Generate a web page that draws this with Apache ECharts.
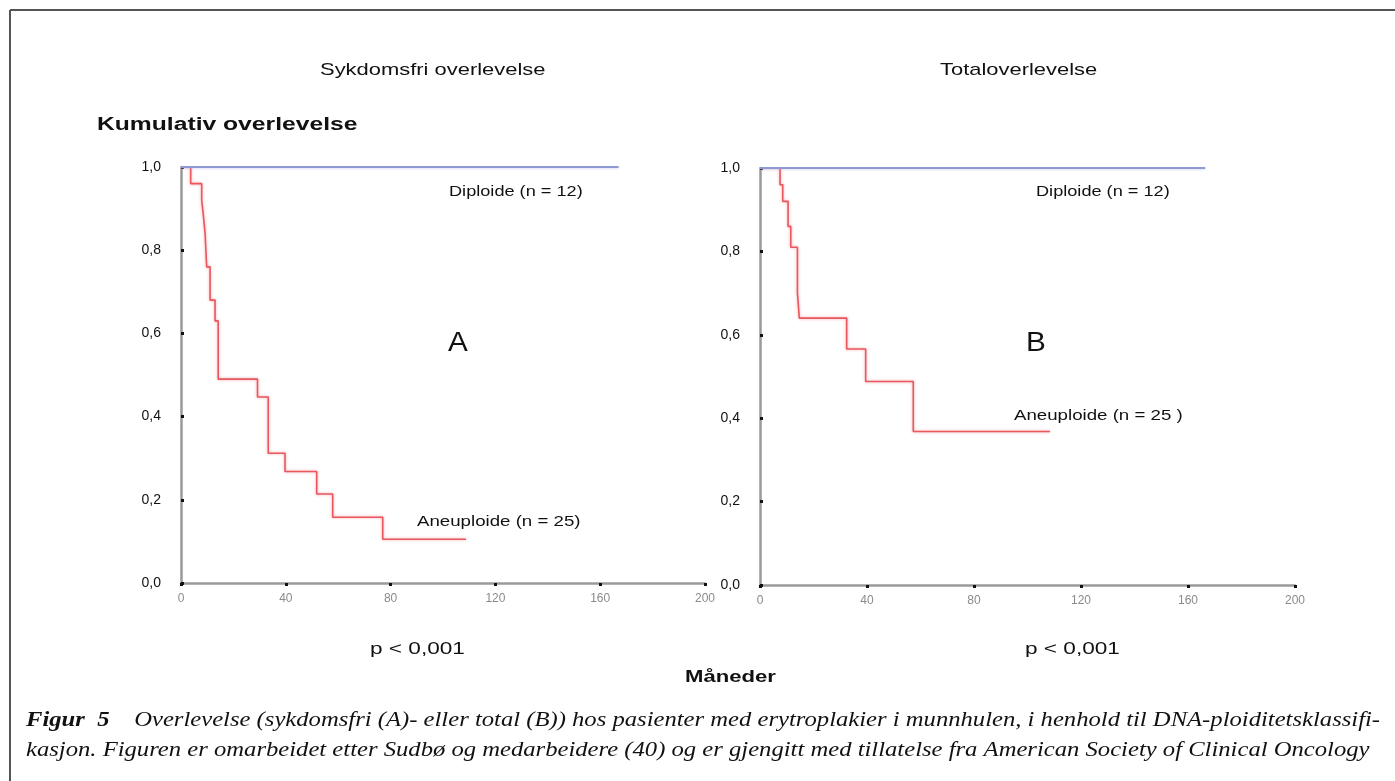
<!DOCTYPE html>
<html><head><meta charset="utf-8">
<script src="https://cdn.jsdelivr.net/npm/echarts@6/dist/echarts.min.js"></script>
<style>html,body{margin:0;padding:0;background:#fff}#c{width:1395px;height:781px}</style>
</head><body><div id="c"></div>
<script>
// Data (months, cumulative survival)
const xTicks = [0, 40, 80, 120, 160, 200];
const yTicks = [0, 0.2, 0.4, 0.6, 0.8, 1.0];
const diploidA = [[0, 1], [167, 1]];
const aneuploidA = [[0,1],[3.7,0.96],[7.9,0.92],[8.6,0.88],[9.2,0.84],[9.8,0.76],[11.1,0.68],[13.0,0.63],[14.2,0.49],[29.2,0.447],[33.3,0.312],[39.7,0.268],[51.8,0.214],[57.9,0.158],[77,0.105],[108.8,0.105]];
const diploidB = [[0, 1], [166.4, 1]];
const aneuploidB = [[0,1],[7.5,0.96],[8.5,0.92],[10.5,0.86],[11.5,0.81],[14,0.70],[14.7,0.64],[32.4,0.566],[39.5,0.488],[57.3,0.368],[108.4,0.368]];

const chart = echarts.init(document.getElementById('c'));
const FONT = 'Liberation Sans, Arial, sans-serif';
const SERIF = 'Liberation Serif, Times New Roman, serif';
function xAxis(gi){
  return {type:'value', gridIndex:gi, min:0, max:200, interval:40,
    axisLine:{show:true, lineStyle:{color:'#9a9a9a', width:2.5}},
    axisTick:{show:true, length:3, lineStyle:{color:'#111', width:3}},
    splitLine:{show:false},
    axisLabel:{color:'#8a8a8a', fontSize:12, fontFamily:FONT, margin:10}};
}
function yAxis(gi){
  return {type:'value', gridIndex:gi, min:0, max:1, interval:0.2,
    axisLine:{show:true, lineStyle:{color:'#9a9a9a', width:2.5}},
    axisTick:{show:true, length:3, inside:true, lineStyle:{color:'#111', width:3}},
    splitLine:{show:false},
    axisLabel:{color:'#111', fontSize:14, fontFamily:FONT, margin:20,
      formatter:v=>v.toFixed(1).replace('.', ',')}};
}
const red = {color:'#e8585d', width:1.6, shadowColor:'rgba(240,140,150,0.8)', shadowBlur:3};
const blue = {color:'#8e98d4', width:2, shadowColor:'rgba(170,180,230,0.8)', shadowBlur:3};
function txt(x, y, t, font, sx){
  return {type:'text', x:x, y:y, scaleX:sx||1, scaleY:1,
    style:{text:t, fill:'#111', font:font, align:'left', verticalAlign:'middle'}};
}
chart.setOption({
  animation:false,
  grid:[{left:181, top:167, width:524, height:416},{left:760, top:168, width:535, height:417}],
  xAxis:[xAxis(0), xAxis(1)],
  yAxis:[yAxis(0), yAxis(1)],
  series:[
    {type:'line', xAxisIndex:0, yAxisIndex:0, data:aneuploidA, step:'end', symbol:'none', lineStyle:red, z:2},
    {type:'line', xAxisIndex:0, yAxisIndex:0, data:diploidA, symbol:'none', lineStyle:blue, z:3},
    {type:'line', xAxisIndex:1, yAxisIndex:1, data:aneuploidB, step:'end', symbol:'none', lineStyle:red, z:2},
    {type:'line', xAxisIndex:1, yAxisIndex:1, data:diploidB, symbol:'none', lineStyle:blue, z:3}
  ],
  graphic:[
    {type:'line', shape:{x1:10, y1:10, x2:1395, y2:10}, style:{stroke:'#555', lineWidth:2}},
    {type:'line', shape:{x1:10, y1:10, x2:10, y2:781}, style:{stroke:'#555', lineWidth:2}},
    txt(320, 70, 'Sykdomsfri overlevelse', '17px '+FONT, 1.29),
    txt(940, 70, 'Totaloverlevelse', '17px '+FONT, 1.29),
    txt(97, 125, 'Kumulativ overlevelse', 'bold 18px '+FONT, 1.37),
    txt(448, 344, 'A', '27px '+FONT, 1.1),
    txt(1026, 344, 'B', '27px '+FONT, 1.1),
    txt(449, 192, 'Diploide (n = 12)', '15px '+FONT, 1.21),
    txt(1036, 192, 'Diploide (n = 12)', '15px '+FONT, 1.21),
    txt(417, 522, 'Aneuploide (n = 25)', '15px '+FONT, 1.245),
    txt(1014, 416, 'Aneuploide (n = 25 )', '15px '+FONT, 1.245),
    txt(370, 649, 'p < 0,001', '17px '+FONT, 1.33),
    txt(1025, 649, 'p < 0,001', '17px '+FONT, 1.33),
    txt(685, 677, 'Måneder', 'bold 17px '+FONT, 1.3),
    {type:'text', x:26, y:705, scaleX:1.12, scaleY:1, style:{
      text:'{b|Figur  5}    Overlevelse (sykdomsfri (A)- eller total (B)) hos pasienter med erytroplakier i munnhulen, i henhold til DNA-ploiditetsklassifi-\nkasjon. Figuren er omarbeidet etter Sudbø og medarbeidere (40) og er gjengitt med tillatelse fra American Society of Clinical Oncology',
      font:'italic 22px '+SERIF, fill:'#111', lineHeight:30, align:'left', verticalAlign:'top',
      rich:{b:{font:'italic bold 22px '+SERIF, fill:'#111', lineHeight:30}}}}
  ]
});
</script></body></html>
